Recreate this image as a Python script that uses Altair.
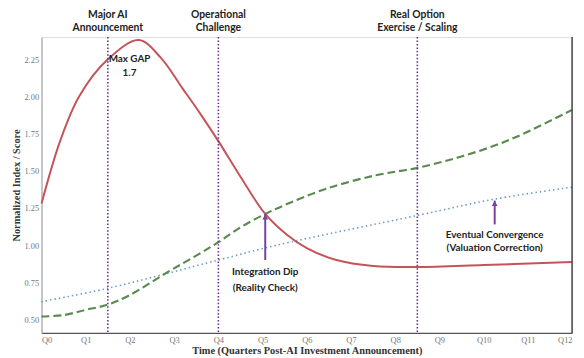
import altair as alt
import pandas as pd

# ---------------- data ----------------
quarters = list(range(13))
tick_labels = [f"Q{i}" for i in quarters]
y_ticks = [0.50, 0.75, 1.00, 1.25, 1.50, 1.75, 2.00, 2.25]

# Red solid: perceived value / hype
red_x = [0, 0.42, 0.85, 1.5, 2.2, 2.7, 3.2, 3.6, 4.0, 4.5, 5.06, 5.55, 6.0, 6.67, 7.5, 8.5, 10.0, 12.0]
red_y = [1.28, 1.70, 2.00, 2.25, 2.38, 2.26, 2.05, 1.88, 1.70, 1.46, 1.21, 1.07, 0.98, 0.90, 0.86, 0.853, 0.866, 0.887]

# Green dashed: real option value
green_x = [0, 0.5, 1.0, 1.5, 2.0, 2.86, 3.5, 4.0, 4.5, 5.06, 5.5, 6.44, 7.56, 8.5, 9.42, 10.25, 10.9, 12.0]
green_y = [0.52, 0.53, 0.565, 0.60, 0.665, 0.82, 0.93, 1.02, 1.12, 1.21, 1.27, 1.38, 1.47, 1.52, 1.59, 1.67, 1.75, 1.91]

# Blue dotted: fundamentals
blue_x = [0, 1.5, 4.0, 5.32, 8.5, 10.25, 12.0]
blue_y = [0.62, 0.71, 0.90, 1.00, 1.20, 1.31, 1.39]

# Event markers
event_x = [1.5, 4.0, 8.5]
event_line1 = ["Major AI", "Operational", "Real Option"]
event_line2 = ["Announcement", "Challenge", "Exercise / Scaling"]

# Annotations
note_x = [1.99, 1.99, 5.06, 5.06, 10.25, 10.25]
note_y = [2.25, 2.155, 0.82, 0.715, 1.07, 0.98]
note_text = ["Max GAP", "1.7", "Integration Dip", "(Reality Check)",
             "Eventual Convergence", "(Valuation Correction)"]

# Arrows (x, tail y, tip y)
arrow_x = [5.06, 10.25]
arrow_tail = [0.90, 1.14]
arrow_tip = [1.21, 1.30]

# ---------------- chart ----------------
W, H = 538, 300
xs = alt.Scale(domain=[0, 12], nice=False, zero=False)
ys = alt.Scale(domain=[0.41, 2.40], nice=False, zero=False)

red_df = pd.DataFrame({"x": red_x, "y": red_y})
green_df = pd.DataFrame({"x": green_x, "y": green_y})
blue_df = pd.DataFrame({"x": blue_x, "y": blue_y})
ev_df = pd.DataFrame({"x": event_x, "l1": event_line1, "l2": event_line2})
note_df = pd.DataFrame({"x": note_x, "y": note_y, "t": note_text})
arr_df = pd.DataFrame({"x": arrow_x, "y": arrow_tail, "y2": arrow_tip})

xaxis = alt.Axis(values=quarters, labelExpr="'Q' + datum.value", ticks=False, grid=False,
                 domainColor="#555", domainWidth=1.5, labelFont="Liberation Serif",
                 labelFontSize=8.5, labelColor="#777", labelPadding=3,
                 title="Time (Quarters Post-AI Investment Announcement)",
                 titleFont="Liberation Serif", titleFontSize=10.5, titleFontWeight="bold",
                 titleColor="#333", titlePadding=1)
yaxis = alt.Axis(values=y_ticks, format=".2f", ticks=False, grid=False,
                 domainColor="#aaa", domainWidth=1.2, labelFont="Liberation Serif",
                 labelFontSize=8.5, labelColor="#777", labelPadding=3,
                 title="Normalized Index / Score", titleFont="Liberation Serif",
                 titleFontSize=10.5, titleFontWeight="bold", titleColor="#333", titlePadding=2)

base_x = alt.X("x:Q", scale=xs, axis=xaxis)
base_y = alt.Y("y:Q", scale=ys, axis=yaxis)

blue = alt.Chart(blue_df).mark_line(color="#6a9cc4", strokeWidth=1.6, strokeDash=[1.5, 3],
                                    interpolate="catmull-rom").encode(x=base_x, y=base_y)
green = alt.Chart(green_df).mark_line(color="#5a8a4f", strokeWidth=2.2, strokeDash=[8, 4],
                                      interpolate="catmull-rom").encode(x="x:Q", y="y:Q")
red = alt.Chart(red_df).mark_line(color="#c55459", strokeWidth=2,
                                  interpolate="catmull-rom").encode(x="x:Q", y="y:Q")

ev_rules = alt.Chart(ev_df).mark_rule(color="#6b2f8f", strokeWidth=1.6, strokeDash=[1.5, 2]).encode(x="x:Q")
ev_t1 = alt.Chart(ev_df).mark_text(font="Lato", fontWeight="bold", fontSize=10.5, color="#222",
                                   baseline="middle").encode(x="x:Q", y=alt.value(-22), text="l1:N")
ev_t2 = alt.Chart(ev_df).mark_text(font="Lato", fontWeight="bold", fontSize=10.5, color="#222",
                                   baseline="middle").encode(x="x:Q", y=alt.value(-9), text="l2:N")

notes = alt.Chart(note_df).mark_text(font="Lato", fontWeight="bold", fontSize=10, color="#222",
                                     baseline="middle").encode(x="x:Q", y="y:Q", text="t:N")

arr_line = alt.Chart(arr_df).mark_rule(color="#7a3fa0", strokeWidth=2).encode(x="x:Q", y="y:Q", y2="y2:Q")
arr_head = alt.Chart(arr_df).mark_point(shape="triangle-up", filled=True, color="#7a3fa0",
                                        size=35, opacity=1, yOffset=3).encode(x="x:Q", y="y2:Q")

right_border = alt.Chart(pd.DataFrame({"x": [12]})).mark_rule(color="#444", strokeWidth=1.5).encode(x="x:Q")

chart = alt.layer(
    blue, green, red, ev_rules, right_border, arr_line, arr_head, ev_t1, ev_t2, notes
).properties(
    width=W, height=H,
    autosize=alt.AutoSizeParams(type="none"),
    padding={"left": 34, "top": 27, "right": 4, "bottom": 23},
).configure_view(stroke="#ccc", strokeWidth=1).configure(background="white")

chart.save("out.html", embed_options={"renderer": "svg", "actions": False})
